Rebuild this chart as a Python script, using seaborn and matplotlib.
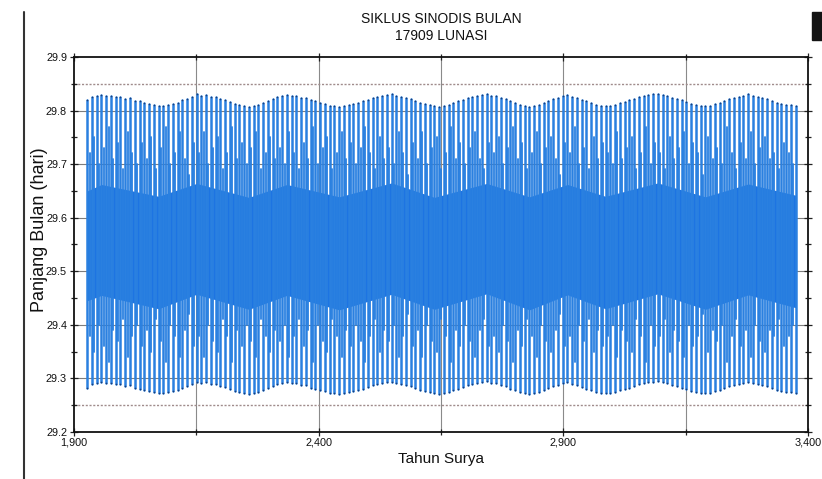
import numpy as np
import pandas as pd
import matplotlib
matplotlib.use("Agg")
import matplotlib.pyplot as plt
from matplotlib.ticker import FuncFormatter, FixedLocator
from matplotlib.lines import Line2D
from matplotlib.patches import Rectangle
import seaborn as sns

# ---------------- data ----------------
title = "SIKLUS SINODIS BULAN\n17909 LUNASI"
x_label = "Tahun Surya"
y_label = "Panjang Bulan (hari)"

n_lunations = 17909
first_year = 1927.0
mean_month_days = 29.530589
year_days = 365.2425

x_ticks = [1900, 2400, 2900, 3400]
x_grid = [2150, 2400, 2650, 2900, 3150]
y_ticks = [29.2, 29.3, 29.4, 29.5, 29.6, 29.7, 29.8, 29.9]
y_minor = [29.25, 29.35, 29.45, 29.55, 29.65, 29.75, 29.85]
limit_lines = [29.85, 29.25]

# highest value reached in each visible stripe (days)
stripe_max = [
    29.820, 29.826, 29.828,
    29.829, 29.827, 29.828, 29.825, 29.826, 29.822, 29.823, 29.818, 29.817, 29.814, 29.812, 29.810, 29.809,
    29.808, 29.810, 29.812, 29.815, 29.819, 29.822, 29.826, 29.830,
    29.828, 29.829, 29.825, 29.826, 29.821, 29.820, 29.816, 29.813, 29.811, 29.808, 29.807,
    29.808, 29.811, 29.814, 29.818, 29.822, 29.825, 29.828, 29.829,
    29.827, 29.828, 29.824, 29.823, 29.819, 29.817, 29.814, 29.812, 29.809, 29.808, 29.807,
    29.808, 29.810, 29.812, 29.815, 29.817, 29.820, 29.823, 29.825, 29.827, 29.829, 29.830,
    29.828, 29.826, 29.824, 29.821, 29.818, 29.815, 29.812, 29.810, 29.808,
    29.807, 29.809, 29.811, 29.814, 29.817, 29.820, 29.823, 29.826, 29.828, 29.829, 29.831,
    29.828, 29.827, 29.823, 29.821, 29.817, 29.814, 29.811, 29.809, 29.807,
    29.808, 29.811, 29.814, 29.818, 29.821, 29.824, 29.827, 29.829,
    29.826, 29.824, 29.820, 29.817, 29.814, 29.811, 29.809, 29.808,
    29.809, 29.811, 29.814, 29.816, 29.819, 29.822, 29.825, 29.827, 29.829, 29.830, 29.831,
    29.829, 29.827, 29.824, 29.822, 29.819, 29.816, 29.813, 29.811, 29.809, 29.808,
    29.809, 29.812, 29.815, 29.818, 29.821, 29.824, 29.826, 29.828, 29.830,
    29.828, 29.826, 29.823, 29.821, 29.818, 29.815, 29.813, 29.811, 29.810, 29.809,
]

# lowest value reached in each visible stripe (days)
stripe_min = [
    29.283, 29.290, 29.292,
    29.293, 29.291, 29.292, 29.289, 29.290, 29.286, 29.287, 29.282, 29.281, 29.278, 29.276, 29.274, 29.273,
    29.272, 29.274, 29.276, 29.279, 29.283, 29.286, 29.290, 29.294,
    29.292, 29.293, 29.289, 29.290, 29.285, 29.284, 29.280, 29.277, 29.275, 29.272, 29.271,
    29.272, 29.275, 29.278, 29.282, 29.286, 29.289, 29.292, 29.293,
    29.291, 29.292, 29.288, 29.287, 29.283, 29.281, 29.278, 29.276, 29.273, 29.272, 29.271,
    29.272, 29.274, 29.276, 29.279, 29.281, 29.284, 29.287, 29.289, 29.291, 29.293, 29.294,
    29.292, 29.290, 29.288, 29.285, 29.282, 29.279, 29.276, 29.274, 29.272,
    29.271, 29.273, 29.275, 29.278, 29.281, 29.284, 29.287, 29.290, 29.292, 29.293, 29.295,
    29.292, 29.291, 29.287, 29.285, 29.281, 29.278, 29.275, 29.273, 29.271,
    29.272, 29.275, 29.278, 29.282, 29.285, 29.288, 29.291, 29.293,
    29.290, 29.288, 29.284, 29.281, 29.278, 29.275, 29.273, 29.272,
    29.273, 29.275, 29.278, 29.280, 29.283, 29.286, 29.289, 29.291, 29.293, 29.294, 29.295,
    29.293, 29.291, 29.288, 29.286, 29.283, 29.280, 29.277, 29.275, 29.273, 29.272,
    29.273, 29.276, 29.279, 29.282, 29.285, 29.288, 29.290, 29.292, 29.294,
    29.292, 29.290, 29.287, 29.285, 29.282, 29.279, 29.277, 29.275, 29.274, 29.273,
]

# shorter stripes lying between the tall ones (days)
inner_max = [
    29.72, 29.75, 29.70, 29.73, 29.77, 29.71, 29.74, 29.69, 29.76, 29.72,
    29.70, 29.74, 29.71, 29.75, 29.69, 29.73, 29.77, 29.70, 29.72, 29.76,
    29.71, 29.68, 29.74, 29.72, 29.76, 29.70, 29.73, 29.75, 29.69, 29.72,
    29.77, 29.71, 29.74, 29.70, 29.73, 29.76, 29.69, 29.72, 29.75, 29.71,
    29.73, 29.70, 29.76, 29.72, 29.69, 29.74, 29.71, 29.77, 29.70, 29.73,
    29.75, 29.69, 29.72, 29.76, 29.71, 29.74, 29.70, 29.73, 29.77, 29.72,
    29.69, 29.75, 29.71, 29.73, 29.70, 29.76, 29.72, 29.68, 29.74, 29.71,
    29.76, 29.70, 29.73, 29.75, 29.69, 29.72, 29.77, 29.71, 29.74, 29.70,
    29.73, 29.76, 29.71, 29.69, 29.74, 29.72, 29.75, 29.70, 29.73, 29.77,
    29.71, 29.74, 29.69, 29.72, 29.76, 29.70, 29.73, 29.75, 29.71, 29.68,
    29.74, 29.72, 29.77, 29.70, 29.73, 29.69, 29.75, 29.71, 29.74, 29.72,
    29.70, 29.76, 29.71, 29.73, 29.75, 29.69, 29.72, 29.77, 29.70, 29.74,
    29.72, 29.69, 29.75, 29.71, 29.73, 29.76, 29.70, 29.74, 29.72, 29.68,
    29.75, 29.71, 29.73, 29.70, 29.77, 29.72, 29.69, 29.74, 29.71, 29.76,
    29.70, 29.73, 29.75, 29.71, 29.72, 29.69, 29.74, 29.72, 29.70,
]
inner_min = [
    29.38, 29.35, 29.40, 29.36, 29.33, 29.39, 29.37, 29.41, 29.34, 29.38,
    29.40, 29.36, 29.39, 29.35, 29.41, 29.37, 29.33, 29.40, 29.38, 29.34,
    29.39, 29.42, 29.36, 29.38, 29.34, 29.40, 29.37, 29.35, 29.41, 29.38,
    29.33, 29.39, 29.36, 29.40, 29.37, 29.34, 29.41, 29.38, 29.35, 29.39,
    29.37, 29.40, 29.34, 29.38, 29.41, 29.36, 29.39, 29.33, 29.40, 29.37,
    29.35, 29.41, 29.38, 29.34, 29.39, 29.36, 29.40, 29.37, 29.33, 29.38,
    29.41, 29.35, 29.39, 29.37, 29.40, 29.34, 29.38, 29.42, 29.36, 29.39,
    29.34, 29.40, 29.37, 29.35, 29.41, 29.38, 29.33, 29.39, 29.36, 29.40,
    29.37, 29.34, 29.39, 29.41, 29.36, 29.38, 29.35, 29.40, 29.37, 29.33,
    29.39, 29.36, 29.41, 29.38, 29.34, 29.40, 29.37, 29.35, 29.39, 29.42,
    29.36, 29.38, 29.33, 29.40, 29.37, 29.41, 29.35, 29.39, 29.36, 29.38,
    29.40, 29.34, 29.39, 29.37, 29.35, 29.41, 29.38, 29.33, 29.40, 29.36,
    29.38, 29.41, 29.35, 29.39, 29.37, 29.34, 29.40, 29.36, 29.38, 29.42,
    29.35, 29.39, 29.37, 29.40, 29.33, 29.38, 29.41, 29.36, 29.39, 29.34,
    29.40, 29.37, 29.35, 29.39, 29.38, 29.41, 29.36, 29.38, 29.40,
]

# dense core band of the series, read at the turning points of the slow wave
core_turn_stripe = [0, 3, 15, 23, 34, 42, 53, 64, 73, 84, 93, 101, 109, 120, 130, 139, 149]
core_top = [29.650, 29.662, 29.640, 29.664, 29.638, 29.662, 29.639, 29.665, 29.638,
            29.664, 29.639, 29.662, 29.640, 29.665, 29.639, 29.663, 29.642]
core_bottom = [29.445, 29.455, 29.430, 29.457, 29.429, 29.455, 29.428, 29.457, 29.429,
               29.458, 29.428, 29.456, 29.430, 29.458, 29.429, 29.456, 29.432]

# ---------------- build tables ----------------
stripe_lunation = np.linspace(0, n_lunations - 1, len(stripe_max))
stripe_year = first_year + stripe_lunation * mean_month_days / year_days
inner_year = (stripe_year[:-1] + stripe_year[1:]) / 2

rows = []
for i, (yr, lo, hi) in enumerate(zip(stripe_year, stripe_min, stripe_max)):
    rows.append({"stripe": i, "year": yr, "days": lo})
    rows.append({"stripe": i, "year": yr, "days": hi})
df = pd.DataFrame(rows)

rows_in = []
for i, (yr, lo, hi) in enumerate(zip(inner_year, inner_min, inner_max)):
    rows_in.append({"stripe": i, "year": yr, "days": lo})
    rows_in.append({"stripe": i, "year": yr, "days": hi})
df_in = pd.DataFrame(rows_in)

core_year = stripe_year[core_turn_stripe]

# ---------------- style ----------------
sns.set_theme(style="white")
plt.rcParams["font.family"] = ["Liberation Sans", "DejaVu Sans"]

blue = "#1d74e2"
stripe_blue = "#2a80e0"
dark = "#1d3f78"

fig = plt.figure(figsize=(8.22, 4.79), dpi=100)
ax = fig.add_axes([74 / 822, 1 - 432 / 479, (808 - 74) / 822, (432 - 57) / 479])

# grid
for yv in y_ticks[1:-1]:
    ax.axhline(yv, color="#7d7d7d", lw=0.8, zorder=0)
for xv in x_grid:
    ax.axvline(xv, color="#8a8a8a", lw=0.8, zorder=0)
for yv in limit_lines:
    ax.axhline(yv, color="#a08c8c", lw=1.0, ls=(0, (1.5, 1.2)), zorder=0)

# data
ax.fill_between(core_year, core_bottom, core_top, color=blue, lw=0, zorder=2)
sns.lineplot(data=df_in, x="year", y="days", units="stripe", estimator=None, sort=False,
             color=stripe_blue, lw=1.3, ax=ax, zorder=2.5, legend=False)
sns.lineplot(data=df, x="year", y="days", units="stripe", estimator=None, sort=False,
             color=stripe_blue, lw=1.8, ax=ax, zorder=3, legend=False)
sns.scatterplot(data=df, x="year", y="days", color=dark, s=1.5, linewidth=0, ax=ax,
                zorder=4, legend=False)

ax.set_xlim(1900, 3400)
ax.set_ylim(29.2, 29.9)
ax.xaxis.set_major_locator(FixedLocator(x_ticks))
ax.xaxis.set_minor_locator(FixedLocator([2150, 2650, 3150]))
ax.yaxis.set_major_locator(FixedLocator(y_ticks))
ax.yaxis.set_minor_locator(FixedLocator(y_minor))
ax.xaxis.set_major_formatter(FuncFormatter(lambda v, p: f"{v:,.0f}"))
ax.yaxis.set_major_formatter(FuncFormatter(lambda v, p: f"{v:.1f}"))

ax.tick_params(axis="both", which="both", direction="inout", color="#222222",
               labelsize=7.8, labelcolor="#111111", top=True, right=True,
               bottom=True, left=True, width=0.9)
ax.tick_params(axis="both", which="major", length=6)
ax.tick_params(axis="both", which="minor", length=4)
ax.tick_params(axis="x", pad=1)
ax.tick_params(axis="y", pad=2)

for s in ax.spines.values():
    s.set_color("#111111")
    s.set_linewidth(1.3)

ax.set_xlabel(x_label, fontsize=11, color="#111111", labelpad=3)
ax.set_ylabel(y_label, fontsize=13, color="#111111")
ax.yaxis.set_label_coords(-0.036, 0.54)
ax.set_title(title, fontsize=10, color="#111111", pad=12, linespacing=1.3)

# screenshot frame remnants
fig.add_artist(Line2D([24 / 822, 24 / 822], [0, 1 - 12 / 479], transform=fig.transFigure,
                      color="#333333", lw=1.5))
fig.add_artist(Rectangle((812 / 822, 1 - 40 / 479), 10 / 822, 28 / 479,
                         transform=fig.transFigure, color="#141414"))

fig.savefig("out.png", dpi=100)
